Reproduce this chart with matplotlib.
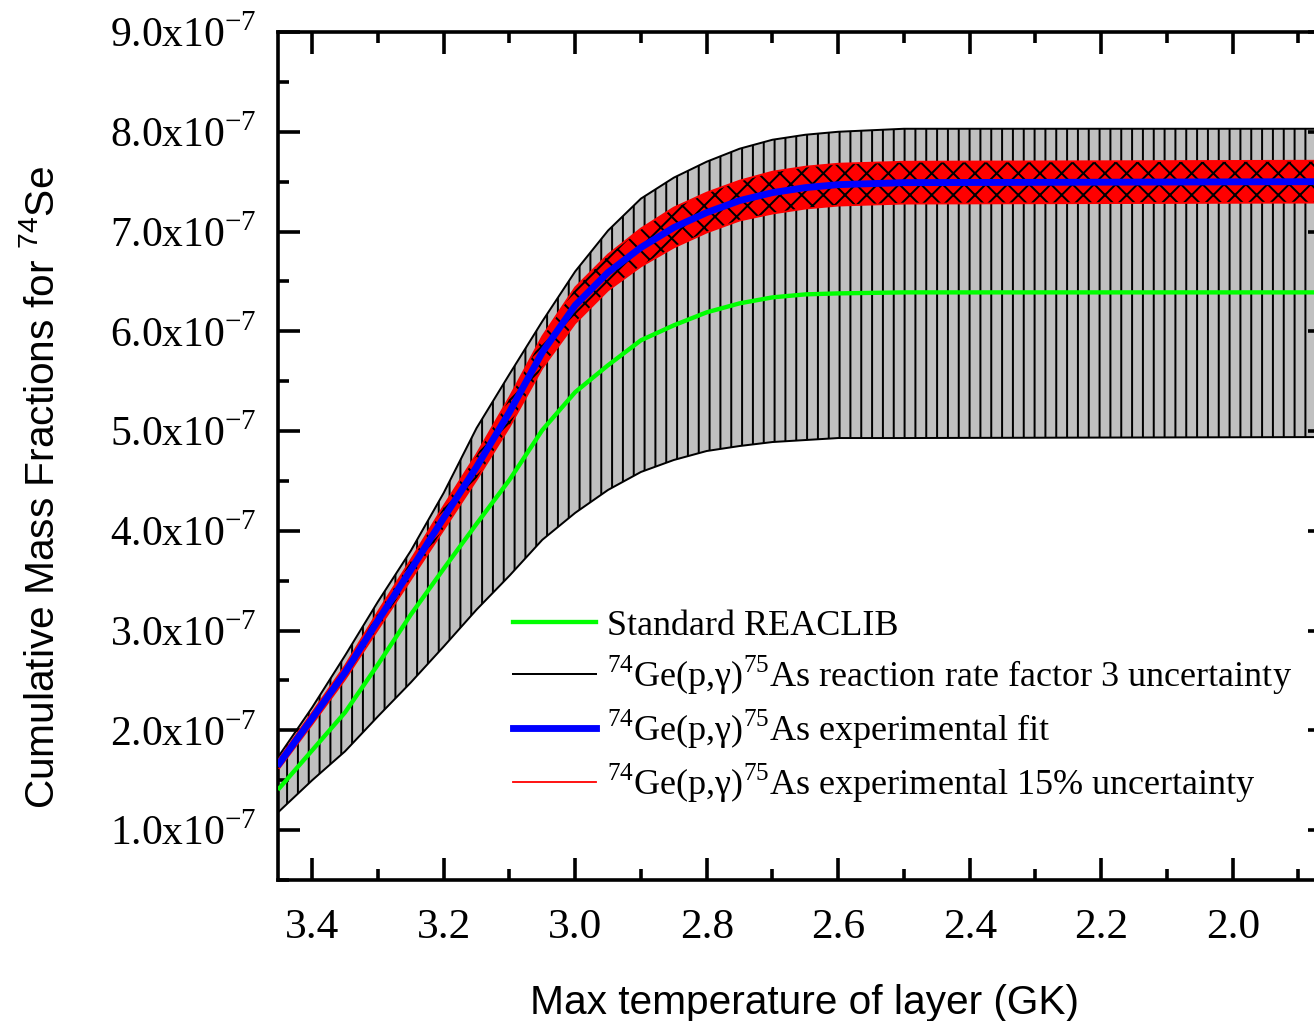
import numpy as np
import matplotlib.pyplot as plt
from matplotlib.ticker import MultipleLocator, FuncFormatter

plt.rcParams['font.family'] = 'Liberation Serif'
plt.rcParams['mathtext.fontset'] = 'custom'
plt.rcParams['mathtext.rm'] = 'Liberation Serif'
plt.rcParams['mathtext.sf'] = 'Liberation Sans'
plt.rcParams['hatch.linewidth'] = 1.1

# max layer temperature (GK)
temp = [3.45, 3.40, 3.35, 3.30, 3.25, 3.20, 3.15, 3.10, 3.05, 3.00,
        2.95, 2.90, 2.85, 2.80, 2.75, 2.70, 2.65, 2.60, 2.50, 1.85]

# cumulative 74Se mass fractions, in units of 1e-7
reaclib = [1.42, 1.80, 2.18, 2.66, 3.16, 3.62, 4.07, 4.51, 5.01, 5.39,
           5.66, 5.91, 6.06, 6.19, 6.28, 6.34, 6.37, 6.38, 6.39, 6.39]
factor3_hi = [1.75, 2.23, 2.75, 3.29, 3.80, 4.38, 5.03, 5.57, 6.10, 6.60,
              7.01, 7.33, 7.54, 7.70, 7.83, 7.92, 7.97, 8.00, 8.03, 8.03]
factor3_lo = [1.19, 1.50, 1.79, 2.14, 2.48, 2.84, 3.21, 3.55, 3.91, 4.18,
              4.41, 4.59, 4.71, 4.80, 4.85, 4.89, 4.91, 4.93, 4.93, 4.94]
exp_fit = [1.67, 2.12, 2.58, 3.10, 3.61, 4.13, 4.64, 5.19, 5.79, 6.26,
           6.59, 6.84, 7.04, 7.19, 7.31, 7.39, 7.44, 7.47, 7.49, 7.50]
exp_hi = [1.72, 2.18, 2.65, 3.19, 3.71, 4.25, 4.77, 5.34, 5.95, 6.44,
          6.77, 7.03, 7.24, 7.39, 7.51, 7.60, 7.65, 7.68, 7.70, 7.71]
exp_lo = [1.62, 2.06, 2.51, 3.01, 3.51, 4.01, 4.51, 5.04, 5.63, 6.08,
          6.41, 6.65, 6.84, 6.99, 7.11, 7.18, 7.23, 7.26, 7.28, 7.29]

scale = 1e-7
T = np.array(temp)
reaclib = np.array(reaclib) * scale
factor3_hi = np.array(factor3_hi) * scale
factor3_lo = np.array(factor3_lo) * scale
exp_fit = np.array(exp_fit) * scale
exp_hi = np.array(exp_hi) * scale
exp_lo = np.array(exp_lo) * scale

fig = plt.figure(figsize=(1314/130, 1021/130), dpi=130)
ax = fig.add_axes([278/1314, 1-880/1021, (1330-278)/1314, (880-32)/1021])

# factor 3 band: grey with vertical hatching
ax.fill_between(T, factor3_lo, factor3_hi, facecolor='#c0c0c0', edgecolor='black',
                hatch='||', linewidth=0, zorder=1)
l_f3, = ax.plot(T, factor3_hi, color='black', lw=1.1, zorder=2,
                label=r'$^{74}$Ge(p,γ)$^{75}$As reaction rate factor 3 uncertainty')
ax.plot(T, factor3_lo, color='black', lw=1.1, zorder=2)

# experimental band: red with cross hatching
ax.fill_between(T, exp_lo, exp_hi, facecolor='red', edgecolor='black',
                hatch='xx', linewidth=0, zorder=3)
l_eu, = ax.plot(T, exp_hi, color='red', lw=1.0, zorder=4,
                label=r'$^{74}$Ge(p,γ)$^{75}$As experimental 15% uncertainty')
ax.plot(T, exp_lo, color='red', lw=1.0, zorder=4)

l_std, = ax.plot(T, reaclib, color='#00ff00', lw=2.4, zorder=5, label='Standard REACLIB')
l_fit, = ax.plot(T, exp_fit, color='#0000ff', lw=3.8, zorder=6,
                 label=r'$^{74}$Ge(p,γ)$^{75}$As experimental fit')

ax.set_xlim(3.452, 1.852)
ax.set_ylim(0.5e-7, 9.0e-7)
ax.xaxis.set_major_locator(MultipleLocator(0.2))
ax.xaxis.set_minor_locator(MultipleLocator(0.1))
ax.yaxis.set_major_locator(MultipleLocator(1e-7))
ax.yaxis.set_minor_locator(MultipleLocator(0.5e-7))
ax.xaxis.set_major_formatter(FuncFormatter(lambda v, p: f'{v:.1f}'))
ax.yaxis.set_major_formatter(FuncFormatter(lambda v, p: f'{v/1e-7:.1f}x10$^{{-7}}$'))

ax.tick_params(which='both', direction='in', top=True, right=True, width=2)
ax.tick_params(axis='x', labelsize=24, pad=16)
ax.tick_params(axis='y', labelsize=23, pad=12)
ax.tick_params(which='major', length=12)
ax.tick_params(which='minor', length=6)
for s in ax.spines.values():
    s.set_linewidth(2)

ax.set_xlabel('Max temperature of layer (GK)', family='Liberation Sans',
              fontsize=22.5, labelpad=20)
ax.set_ylabel(r'Cumulative Mass Fractions for $^{\mathsf{74}}$Se',
              family='Liberation Sans', fontsize=22.5)
ax.yaxis.set_label_coords(-0.205, 0.463)

ax.legend(handles=[l_std, l_f3, l_fit, l_eu], loc='upper left',
          bbox_to_anchor=(0.2234, 0.319), frameon=False, fontsize=20,
          handlelength=2.3, handletextpad=0.3, labelspacing=0.3,
          borderpad=0, borderaxespad=0)

plt.savefig('out.png', dpi=130)
